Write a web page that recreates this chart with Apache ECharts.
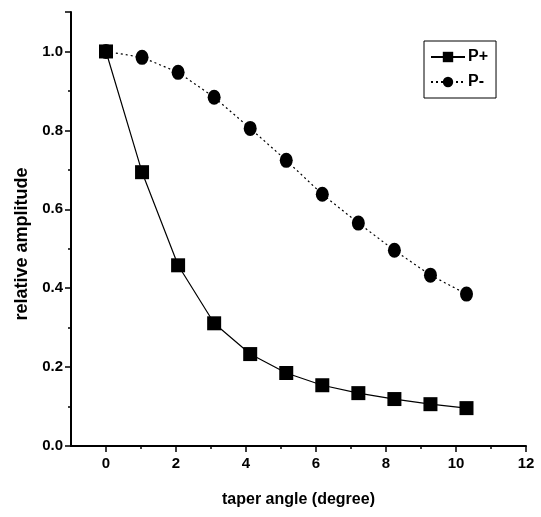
<!DOCTYPE html>
<html><head><meta charset="utf-8">
<script src="https://cdn.jsdelivr.net/npm/echarts@6/dist/echarts.min.js"></script>
<style>html,body{margin:0;padding:0;background:#fff}#c{width:541px;height:517px}</style>
</head><body><div id="c"></div>
<script>
const angles = [0, 1.03, 2.06, 3.09, 4.12, 5.15, 6.18, 7.21, 8.24, 9.27, 10.3];
const pPlus = [1.0, 0.694, 0.458, 0.311, 0.233, 0.185, 0.154, 0.134, 0.119, 0.106, 0.096];
const pMinus = [1.0, 0.985, 0.947, 0.884, 0.805, 0.724, 0.638, 0.565, 0.496, 0.433, 0.385];
const seriesNames = ['P+', 'P-'];
const xTitle = 'taper angle (degree)';
const yTitle = 'relative amplitude';
const xMajor = [0, 2, 4, 6, 8, 10, 12];
const xMinor = [1, 3, 5, 7, 9, 11];

const font = 'Liberation Sans, Arial, sans-serif';
const chart = echarts.init(document.getElementById('c'), null, {renderer: 'canvas'});
const baseX = {
  type: 'value', min: -1, max: 12, interval: 1,
  splitLine: {show: false}
};
chart.setOption({
  animation: false,
  backgroundColor: '#fff',
  grid: {left: 71, right: 15, top: 12, bottom: 71, containLabel: false},
  legend: {
    orient: 'vertical', left: 424, top: 41,
    padding: [8, 8, 8, 6], itemGap: 9,
    borderColor: '#000', borderWidth: 1,
    itemWidth: 34, itemHeight: 13,
    textStyle: {fontFamily: font, fontSize: 16, fontWeight: 'bold', color: '#000', padding: [0, 0, 0, -2]},
    data: seriesNames
  },
  xAxis: [
    Object.assign({}, baseX, {
      name: xTitle, nameLocation: 'middle', nameGap: 46,
      nameTextStyle: {fontFamily: font, fontSize: 16, fontWeight: 'bold', color: '#000'},
      axisLine: {show: true, onZero: false, lineStyle: {color: '#000', width: 2}},
      axisTick: {show: true, length: 6, customValues: xMajor, lineStyle: {color: '#000', width: 1.5}},
      axisLabel: {fontFamily: font, fontSize: 15, fontWeight: 'bold', color: '#000', margin: 10, customValues: xMajor}
    }),
    Object.assign({}, baseX, {
      position: 'bottom',
      axisLine: {show: false, onZero: false},
      axisTick: {show: true, length: 3, customValues: xMinor, lineStyle: {color: '#000', width: 1.5}},
      axisLabel: {show: false}
    })
  ],
  yAxis: {
    type: 'value', min: 0, max: 1.1, interval: 0.2,
    name: yTitle, nameLocation: 'middle', nameGap: 40, nameRotate: 90,
    nameTextStyle: {fontFamily: font, fontSize: 18, fontWeight: 'bold', color: '#000', padding: [0, 30, 0, 0]},
    axisLine: {show: true, onZero: false, lineStyle: {color: '#000', width: 2}},
    axisTick: {show: true, length: 6, lineStyle: {color: '#000', width: 1.5}},
    minorTick: {show: true, splitNumber: 2, length: 3, lineStyle: {color: '#000', width: 1.5}},
    axisLabel: {fontFamily: font, fontSize: 15, fontWeight: 'bold', color: '#000', margin: 8,
      formatter: v => (Math.abs(v * 5 - Math.round(v * 5)) < 1e-6 ? v.toFixed(1) : '')},
    splitLine: {show: false}
  },
  series: [
    {
      name: seriesNames[0], type: 'line',
      data: angles.map((x, i) => [x, pPlus[i]]),
      symbol: 'rect', symbolSize: 14,
      itemStyle: {color: '#000'},
      lineStyle: {color: '#000', width: 1.2, type: 'solid'}
    },
    {
      name: seriesNames[1], type: 'line',
      data: angles.map((x, i) => [x, pMinus[i]]),
      symbol: 'circle', symbolSize: [13, 15],
      itemStyle: {color: '#000'},
      lineStyle: {color: '#000', width: 1.2, type: [2, 3]}
    }
  ]
});
</script></body></html>
